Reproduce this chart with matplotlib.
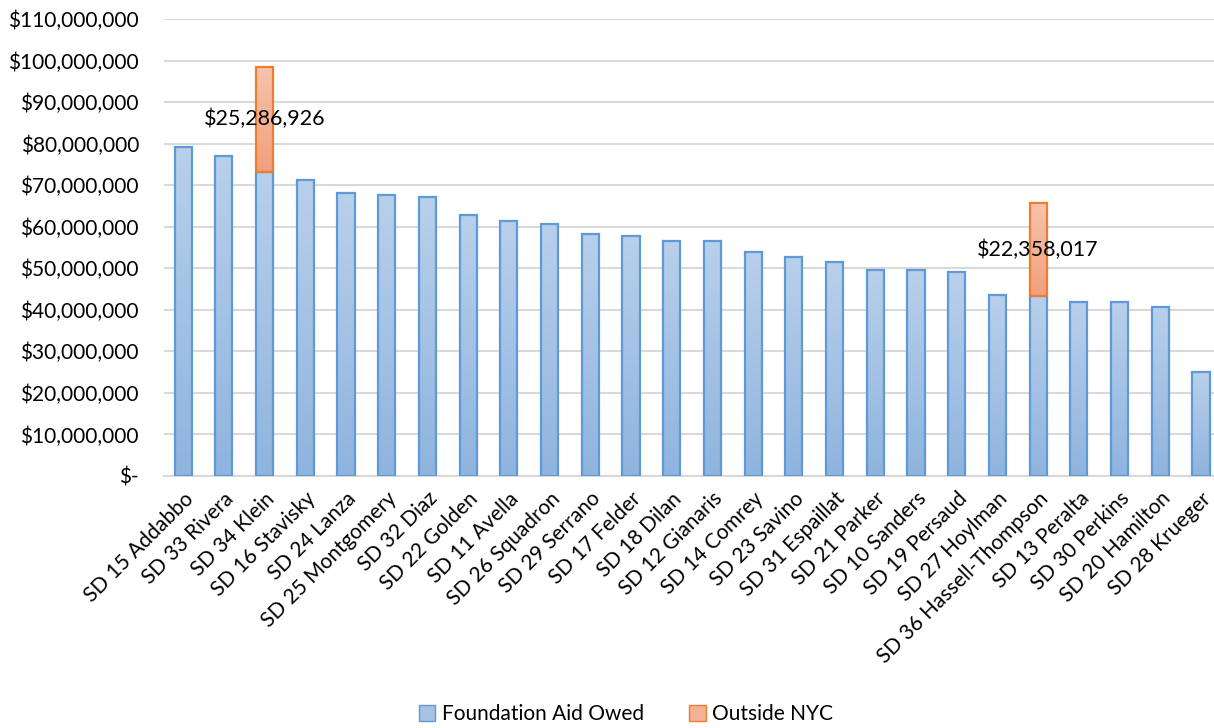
import matplotlib
matplotlib.use("Agg")
import matplotlib.pyplot as plt
import numpy as np
from matplotlib.colors import LinearSegmentedColormap
from matplotlib.ticker import FuncFormatter, MultipleLocator
from matplotlib.patches import Patch

districts = ["SD 15 Addabbo", "SD 33 Rivera", "SD 34 Klein", "SD 16 Stavisky",
             "SD 24 Lanza", "SD 25 Montgomery", "SD 32 Diaz", "SD 22 Golden",
             "SD 11 Avella", "SD 26 Squadron", "SD 29 Serrano", "SD 17 Felder",
             "SD 18 Dilan", "SD 12 Gianaris", "SD 14 Comrey", "SD 23 Savino",
             "SD 31 Espaillat", "SD 21 Parker", "SD 10 Sanders", "SD 19 Persaud",
             "SD 27 Hoylman", "SD 36 Hassell-Thompson", "SD 13 Peralta",
             "SD 30 Perkins", "SD 20 Hamilton", "SD 28 Krueger"]
aid_owed = [79.2e6, 77.0e6, 73.2e6, 71.2e6, 68.1e6, 67.6e6, 67.1e6, 62.8e6,
            61.4e6, 60.6e6, 58.2e6, 57.8e6, 56.6e6, 56.6e6, 53.9e6, 52.7e6,
            51.5e6, 49.6e6, 49.6e6, 49.2e6, 43.5e6, 43.3e6, 41.8e6, 41.8e6,
            40.6e6, 25.0e6]
outside_nyc = [0, 0, 25286926, 0, 0, 0, 0, 0, 0, 0, 0, 0, 0, 0, 0, 0, 0, 0,
               0, 0, 0, 22358017, 0, 0, 0, 0]

plt.rcParams['font.family'] = ['Lato', 'DejaVu Sans']

W, H = 1214, 728
fig = plt.figure(figsize=(W / 100, H / 100), dpi=100)
ax = fig.add_axes([164 / W, 1 - 476 / H, (1214 - 164) / W, (476 - 19) / H])

x = np.arange(len(districts))
bw = 0.42
blue_edge = "#5f9ad6"
orange_edge = "#ed7d31"
blue_cmap = LinearSegmentedColormap.from_list("b", ["#8fb4de", "#b9d0eb"])
orange_cmap = LinearSegmentedColormap.from_list("o", ["#f2a07c", "#f6c4ad"])

bars1 = ax.bar(x, aid_owed, bw, color="none", edgecolor=blue_edge,
               linewidth=1.6, zorder=3)
bars2 = ax.bar(x, outside_nyc, bw, bottom=aid_owed, color="none",
               edgecolor=orange_edge, linewidth=1.6, zorder=3)

grad = np.linspace(0, 1, 256).reshape(-1, 1)
for bars, cmap in ((bars1, blue_cmap), (bars2, orange_cmap)):
    for b in bars:
        h = b.get_height()
        if h <= 0:
            b.set_visible(False)
            continue
        x0 = b.get_x()
        y0 = b.get_y()
        im = ax.imshow(grad, cmap=cmap, origin="lower", aspect="auto",
                       extent=(x0, x0 + b.get_width(), y0, y0 + h), zorder=2)
        im.set_clip_path(b)

for i, v in enumerate(outside_nyc):
    if v > 0:
        ax.text(x[i], aid_owed[i] + v / 2, f"${v:,.0f}", ha="center",
                va="center", fontsize=15.5, color="black", zorder=5)

ax.set_xlim(-0.47, 25.32)
ax.set_ylim(0, 110e6)
ax.yaxis.set_major_locator(MultipleLocator(10e6))
ax.yaxis.set_major_formatter(FuncFormatter(
    lambda v, p: "$-" if v == 0 else f"${v:,.0f}"))
ax.grid(axis="y", color="#d9d9d9", linewidth=1.5, zorder=0)
ax.set_axisbelow(True)
for s in ["top", "right", "left"]:
    ax.spines[s].set_visible(False)
ax.spines["bottom"].set_color("#d9d9d9")
ax.spines["bottom"].set_linewidth(1.5)
ax.tick_params(axis="both", length=0, labelsize=15)
ax.tick_params(axis="y", pad=18)
ax.set_xticks(x)
ax.set_xticklabels(districts, rotation=45, ha="right", rotation_mode="anchor")
ax.tick_params(axis="x", pad=9)

handles = [Patch(facecolor="#a6c3e6", edgecolor=blue_edge, label="Foundation Aid Owed"),
           Patch(facecolor="#f4b295", edgecolor=orange_edge, label="Outside NYC")]
fig.legend(handles=handles, loc="center", bbox_to_anchor=(626 / W, 1 - 714 / H),
           ncol=2, frameon=False, fontsize=15, handlelength=0.8,
           handleheight=0.8, columnspacing=2.2, handletextpad=0.3)

fig.savefig("out.png", dpi=100)
